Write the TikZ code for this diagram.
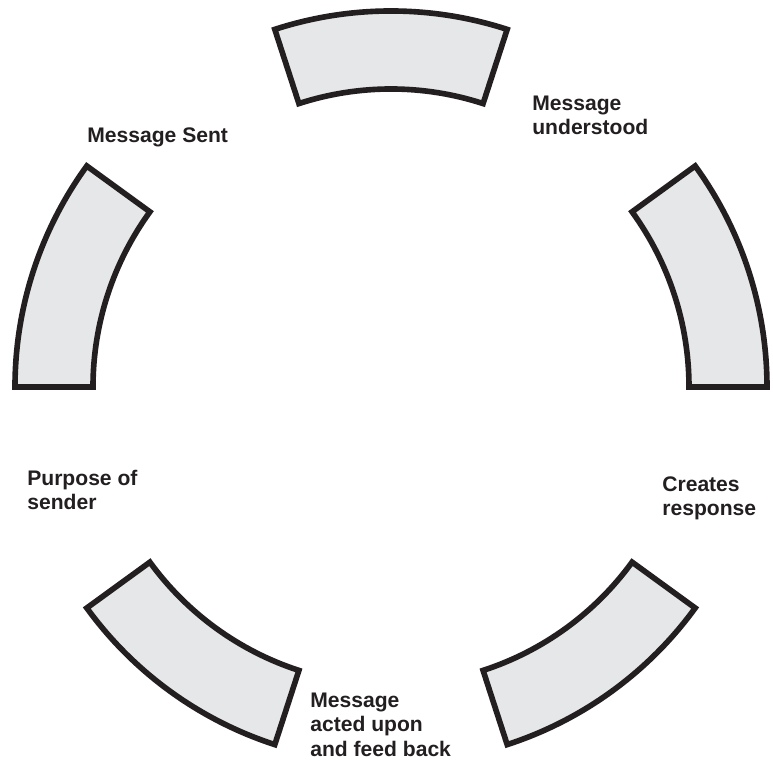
\documentclass[tikz,border=0pt]{standalone}
\usepackage{fontspec}
\setmainfont{Liberation Sans}
\usepackage{tikz}
\usetikzlibrary{positioning}

\definecolor{inkblack}{HTML}{231F20}
\definecolor{segfill}{HTML}{E6E7E8}

\tikzset{
  segment/.style={draw=inkblack, fill=segfill, line width=3.2pt, line join=miter},
  steplabel/.style={anchor=north west, inner sep=0pt, align=left, text=inkblack,
    font=\fontsize{12}{13.7}\selectfont\bfseries}
}

\begin{document}
\begin{tikzpicture}
    \useasboundingbox (-7.82,-7.48) rectangle (7.64,7.74);
    % five ring segments, 36 degrees each
    \foreach \a in {0,72,144,216,288}
        \draw[segment] (\a:7.52) arc[start angle=\a, end angle={\a+36}, radius=7.52]
            -- ({\a+36}:5.96) arc[start angle={\a+36}, end angle=\a, radius=5.96] -- cycle;
    % labels
    \node[steplabel] (sent) at (-6.08,5.2) {Message Sent};
    \node[steplabel] (understood) at (2.82,5.82) {Message\\understood};
    \node[steplabel] (response) at (5.42,-1.78) {Creates\\response};
    \node[steplabel] (purpose) at (-7.28,-1.66) {Purpose of\\sender};
    \node[steplabel] (feedback) at (-1.62,-6.12) {Message\\acted upon\\and feed back};
\end{tikzpicture}
\end{document}
